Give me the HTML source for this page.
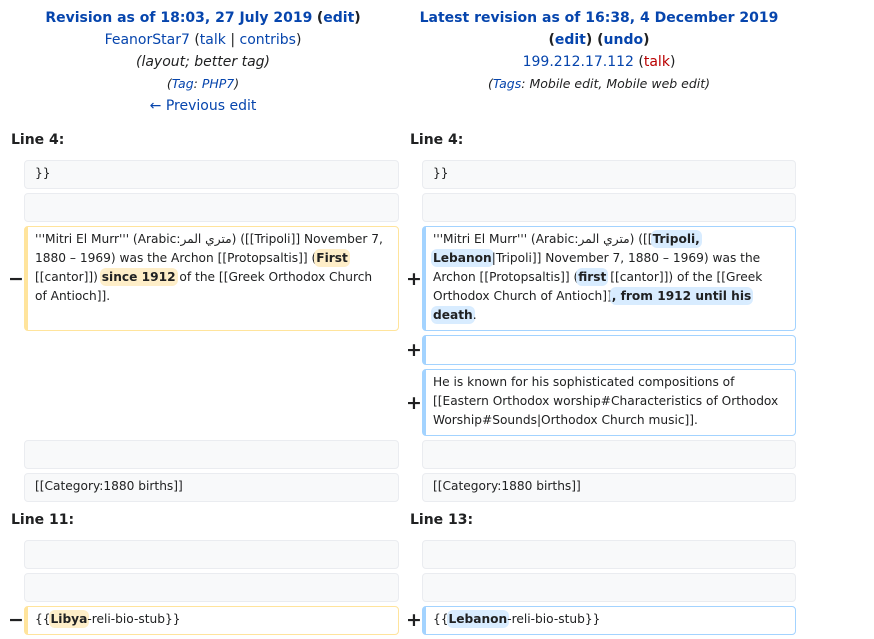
<!DOCTYPE html>
<html><head><meta charset="utf-8"><style>
body{margin:0;width:874px;height:639px;background:#fff;font-family:"DejaVu Sans","Noto Sans CJK SC",sans-serif;color:#202122;position:relative;overflow:hidden}
.h{position:absolute;text-align:center;font-size:14px;line-height:22px}
a,.l{color:#0645ad}
.b{position:absolute;box-sizing:border-box;border-radius:4px;font-size:12.2px;line-height:19px;padding:3px 0 0 10px;white-space:nowrap}
.c{background:#f8f9fa;border:1px solid #eaecf0;color:#202122}
.d{border:1px solid #ffe49c;border-left:4px solid #ffe49c;padding-left:7px}
.a{border:1px solid #a3d3ff;border-left:4px solid #a3d3ff;padding-left:7px}
.dx{background:#feeec8;font-weight:bold;border-radius:4px;box-shadow:0 0 0 2px #feeec8}
.ax{background:#d8ecff;font-weight:bold;border-radius:4px;box-shadow:0 0 0 2px #d8ecff}
.lh{position:absolute;font-weight:bold;font-size:14px}
.m{position:absolute;font-weight:bold;font-size:19px;line-height:19px}
</style></head><body>
<div class="h" style="left:0;width:406px;top:7px"><b class="l">Revision as of 18:03, 27 July 2019</b> <b>(<span class="l">edit</span>)</b><br><span class="l">FeanorStar7</span> (<span class="l">talk</span> | <span class="l">contribs</span>)<br><i>(layout; better tag)</i><br><i style="font-size:12.5px">(<span class="l">Tag</span>: <span class="l">PHP7</span>)</i><br><span class="l">← Previous edit</span></div>
<div class="h" style="left:400px;width:398px;top:7px"><b class="l">Latest revision as of 16:38, 4 December 2019</b><br><b>(<span class="l">edit</span>) (<span class="l">undo</span>)</b><br><span class="l">199.212.17.112</span> (<span style="color:#ba0000">talk</span>)<br><i style="font-size:12.5px">(<span class="l">Tags</span>: Mobile edit, Mobile web edit)</i></div>

<div class="lh" style="left:11px;top:132px">Line 4:</div>
<div class="lh" style="left:410px;top:132px">Line 4:</div>

<div class="b c" style="left:24px;top:160px;width:375px;height:29px">}}</div>
<div class="b c" style="left:422px;top:160px;width:374px;height:29px">}}</div>
<div class="b c" style="left:24px;top:193px;width:375px;height:29px"></div>
<div class="b c" style="left:422px;top:193px;width:374px;height:29px"></div>

<div class="m" style="left:8px;top:270px">−</div>
<div class="b d" style="left:24px;top:226px;width:375px;height:105px">'''Mitri El Murr''' (Arabic:<span dir="rtl">متري المر</span>) ([[Tripoli]] November 7,<br>1880 – 1969) was the Archon [[Protopsaltis]] (<span class="dx">First</span><br>[[cantor]]) <span class="dx">since 1912</span> of the [[Greek Orthodox Church<br>of Antioch]].</div>

<div class="m" style="left:406px;top:270px">+</div>
<div class="b a" style="left:422px;top:226px;width:374px;height:105px">'''Mitri El Murr''' (Arabic:<span dir="rtl">متري المر</span>) ([[<span class="ax">Tripoli,</span><br><span class="ax">Lebanon</span>|Tripoli]] November 7, 1880 – 1969) was the<br>Archon [[Protopsaltis]] (<span class="ax">first</span> [[cantor]]) of the [[Greek<br>Orthodox Church of Antioch]]<span class="ax">, from 1912 until his</span><br><span class="ax">death</span>.</div>

<div class="m" style="left:406px;top:341px">+</div>
<div class="b a" style="left:422px;top:335px;width:374px;height:30px"></div>
<div class="m" style="left:406px;top:394px">+</div>
<div class="b a" style="left:422px;top:369px;width:374px;height:67px">He is known for his sophisticated compositions of<br>[[Eastern Orthodox worship#Characteristics of Orthodox<br>Worship#Sounds|Orthodox Church music]].</div>

<div class="b c" style="left:24px;top:440px;width:375px;height:29px"></div>
<div class="b c" style="left:422px;top:440px;width:374px;height:29px"></div>
<div class="b c" style="left:24px;top:473px;width:375px;height:29px">[[Category:1880 births]]</div>
<div class="b c" style="left:422px;top:473px;width:374px;height:29px">[[Category:1880 births]]</div>

<div class="lh" style="left:11px;top:512px">Line 11:</div>
<div class="lh" style="left:410px;top:512px">Line 13:</div>

<div class="b c" style="left:24px;top:540px;width:375px;height:29px"></div>
<div class="b c" style="left:422px;top:540px;width:374px;height:29px"></div>
<div class="b c" style="left:24px;top:573px;width:375px;height:29px"></div>
<div class="b c" style="left:422px;top:573px;width:374px;height:29px"></div>
<div class="m" style="left:8px;top:611px">−</div>
<div class="b d" style="left:24px;top:606px;width:375px;height:29px">{{<span class="dx">Libya</span>-reli-bio-stub}}</div>
<div class="m" style="left:406px;top:611px">+</div>
<div class="b a" style="left:422px;top:606px;width:374px;height:29px">{{<span class="ax">Lebanon</span>-reli-bio-stub}}</div>
</body></html>
